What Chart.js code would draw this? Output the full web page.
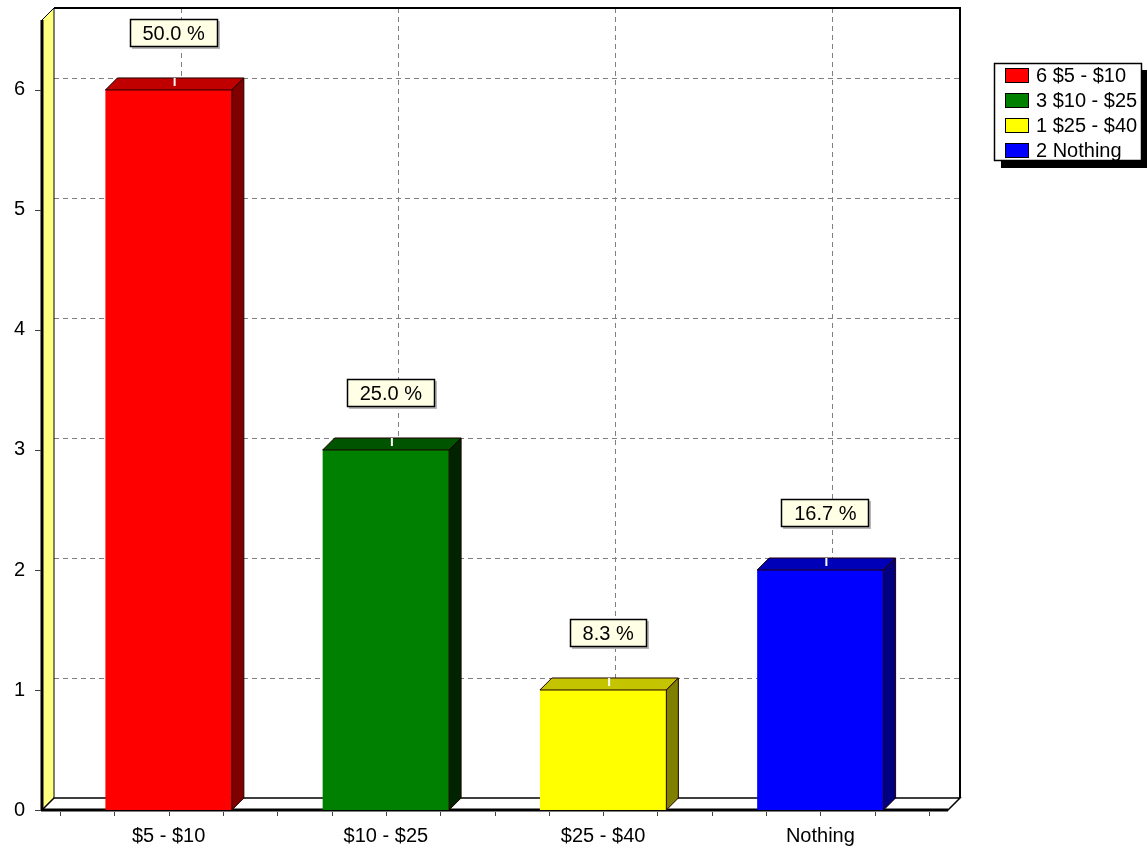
<!DOCTYPE html>
<html>
<head>
<meta charset="utf-8">
<title>Spending bar chart</title>
<script src="https://cdn.jsdelivr.net/npm/chart.js@4.4.1/dist/chart.umd.min.js"></script>
<style>
html, body { margin: 0; padding: 0; background: #fff; }
#wrap { width: 1147px; height: 856px; position: relative; }
</style>
</head>
<body>
<div id="wrap"><canvas id="bar_chart"></canvas></div>
<script>
// data
const categories = ['$5 - $10', '$10 - $25', '$25 - $40', 'Nothing'];
const counts = [6, 3, 1, 2];
const y_ticks = [0, 1, 2, 3, 4, 5, 6];

// colours: front, top and side faces of each bar
const bar_colors = ['#ff0000', '#008000', '#ffff00', '#0000ff'];
const top_colors = ['#c00000', '#005400', '#c4c400', '#0000b8'];
const side_colors = ['#800000', '#002400', '#808000', '#000080'];

const FAMILY = '"Liberation Sans", Arial, sans-serif';
const FONT = '20px ' + FAMILY;
const DX = 12;   // depth offset to the right
const DY = 12;   // depth offset upwards

const total = counts.reduce((a, b) => a + b, 0);

function line(ctx, x1, y1, x2, y2){
    ctx.beginPath();
    ctx.moveTo(x1, y1);
    ctx.lineTo(x2, y2);
    ctx.stroke();
}

function poly(ctx, pts, fill, stroke, lw){
    ctx.beginPath();
    ctx.moveTo(pts[0][0], pts[0][1]);
    for(let i = 1; i < pts.length; i++) ctx.lineTo(pts[i][0], pts[i][1]);
    ctx.closePath();
    if(fill){ ctx.fillStyle = fill; ctx.fill(); }
    if(stroke){ ctx.strokeStyle = stroke; ctx.lineWidth = lw || 1; ctx.stroke(); }
}

// walls, floor and back grid behind the bars
const wallsPlugin = {
    id: 'walls',
    beforeDatasetsDraw(chart){
        const {ctx, chartArea: a, scales: {x, y}} = chart;
        const base = y.getPixelForValue(0);
        const fl = a.left - 18, fr = a.right + 19;
        const bl = fl + DX, br = fr + DX, bt = a.top - DY, bb = base - DY;
        ctx.save();

        // back wall
        ctx.fillStyle = '#fff';
        ctx.fillRect(bl, bt, br - bl, bb - bt);

        // dashed grid on the back wall
        ctx.strokeStyle = '#808080';
        ctx.lineWidth = 1;
        ctx.setLineDash([5, 4]);
        y_ticks.forEach(v => {
            if(v === 0) return;
            const yy = Math.round(y.getPixelForValue(v) - DY) + 0.5;
            line(ctx, bl, yy, br, yy);
        });
        categories.forEach((c, i) => {
            const xx = Math.round(x.getPixelForValue(i) + DX) + 0.5;
            line(ctx, xx, bt, xx, bb);
        });
        ctx.setLineDash([]);

        // back wall border
        ctx.strokeStyle = '#000';
        ctx.lineWidth = 2;
        ctx.beginPath();
        ctx.moveTo(bl, bt);
        ctx.lineTo(br, bt);
        ctx.lineTo(br, bb);
        ctx.stroke();

        // left wall
        poly(ctx, [[fl, base], [bl, bb], [bl, bt], [fl, a.top]], '#ffff80', '#000', 1);
        ctx.lineWidth = 3;
        line(ctx, fl, a.top, fl, base + 1);

        // floor
        poly(ctx, [[fl, base], [fr, base], [br, bb], [bl, bb]], '#fff', '#000', 1.5);
        ctx.lineWidth = 3;
        line(ctx, fl - 1, base, fr, base);

        // y tick marks
        ctx.lineWidth = 1;
        ctx.strokeStyle = '#404040';
        y_ticks.forEach(v => {
            const yy = Math.round(y.getPixelForValue(v)) + 0.5;
            line(ctx, fl - 7, yy, fl - 1, yy);
        });

        // x tick marks at every quarter of a category
        const step = a.width / (categories.length * 4);
        for(let k = 0; k <= categories.length * 4; k++){
            const xx = Math.round(a.left + k * step) + 0.5;
            line(ctx, xx, base + 2, xx, base + 6);
        }
        ctx.restore();
    }
};

// 3D faces, value boxes and the legend
const facesPlugin = {
    id: 'faces',
    afterDatasetsDraw(chart){
        const {ctx} = chart;
        const meta = chart.getDatasetMeta(0);
        ctx.save();
        meta.data.forEach((el, i) => {
            const l = el.x - el.width / 2, r = el.x + el.width / 2;
            const t = el.y, b = el.base;
            poly(ctx, [[l, t], [l + DX, t - DY], [r + DX, t - DY], [r, t]], top_colors[i], '#200000', 1);
            poly(ctx, [[r, t], [r + DX, t - DY], [r + DX, b - DY], [r, b]], side_colors[i], '#200000', 1);

            // little white mark on the top face
            ctx.strokeStyle = '#fff';
            ctx.lineWidth = 2;
            line(ctx, el.x + 6, t - DY, el.x + 6, t - DY + 8);

            // percentage box
            const txt = (counts[i] / total * 100).toFixed(1) + ' %';
            ctx.font = FONT;
            const w = Math.round(ctx.measureText(txt).width + 26);
            const h = 28;
            const cx = el.x + 5;
            const by = Math.round(t - DY - 31);
            const bx = Math.round(cx - w / 2);
            ctx.fillStyle = '#b8b8b8';
            ctx.fillRect(bx + 2, by - h + 2, w, h);
            ctx.fillStyle = '#ffffe6';
            ctx.fillRect(bx, by - h, w, h);
            ctx.strokeStyle = '#000';
            ctx.lineWidth = 1.5;
            ctx.strokeRect(bx + 0.5, by - h + 0.5, w - 1, h - 1);
            ctx.fillStyle = '#000';
            ctx.textAlign = 'center';
            ctx.textBaseline = 'middle';
            ctx.fillText(txt, cx, by - h / 2 + 1);
        });

        // legend
        const lx = 994, ly = 63, lw = 148, lh = 98;
        ctx.fillStyle = '#000';
        ctx.fillRect(lx + 7, ly + 7, lw, lh);
        ctx.fillStyle = '#fff';
        ctx.fillRect(lx, ly, lw, lh);
        ctx.strokeStyle = '#000';
        ctx.lineWidth = 1.5;
        ctx.strokeRect(lx + 0.5, ly + 0.5, lw - 1, lh - 1);
        ctx.font = FONT;
        ctx.textAlign = 'left';
        ctx.textBaseline = 'middle';
        categories.forEach((c, i) => {
            const ry = ly + 5 + i * 25;
            ctx.fillStyle = bar_colors[i];
            ctx.fillRect(1005, ry, 24, 15);
            ctx.lineWidth = 1;
            ctx.strokeRect(1005.5, ry + 0.5, 23, 14);
            ctx.fillStyle = '#000';
            ctx.fillText(counts[i] + ' ' + c, 1036, ry + 8);
        });
        ctx.restore();
    }
};

const ctx = document.getElementById('bar_chart').getContext('2d');
const bar_chart = new Chart(ctx, {
    type: 'bar',
    data: {
        labels: categories,
        datasets: [{
            label: 'Count',
            data: counts,
            backgroundColor: bar_colors,
            borderWidth: 0,
            categoryPercentage: 1,
            barPercentage: 0.582
        }]
    },
    options: {
        responsive: true,
        maintainAspectRatio: false,
        animation: false,
        layout: {
            padding: { top: 20, right: 218, left: 0, bottom: 0 }
        },
        plugins: {
            legend: { display: false },
            tooltip: { enabled: false }
        },
        scales: {
            x: {
                grid: { display: false },
                border: { display: false },
                ticks: {
                    color: '#000',
                    font: { family: FAMILY, size: 20 },
                    padding: 6,
                    maxRotation: 0
                },
                afterFit(s){
                    s.height = 46;
                    s.paddingLeft = 0;
                    s.paddingRight = 0;
                }
            },
            y: {
                min: 0,
                max: 6.583,
                grid: { display: false },
                border: { display: false },
                ticks: {
                    color: '#000',
                    font: { family: FAMILY, size: 20 },
                    padding: 27
                },
                afterBuildTicks(s){
                    s.ticks = y_ticks.map(v => ({ value: v }));
                },
                afterFit(s){
                    s.width = 60;
                    s.paddingTop = 0;
                    s.paddingBottom = 0;
                }
            }
        }
    },
    plugins: [wallsPlugin, facesPlugin]
});
</script>
</body>
</html>
